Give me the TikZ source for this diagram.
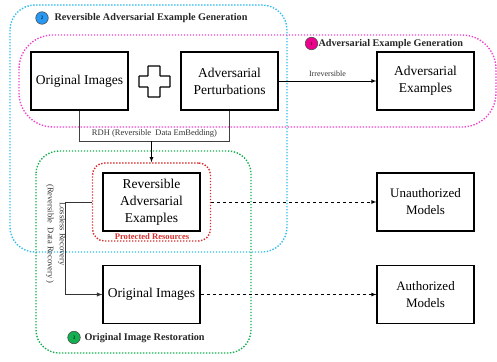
\documentclass[tikz,border=0pt]{standalone}
\usepackage{fontspec}
\setmainfont{Liberation Serif}
\usetikzlibrary{arrows}
\definecolor{rblue}{RGB}{51,190,240}
\definecolor{rpink}{RGB}{238,70,205}
\definecolor{rgreen}{RGB}{20,175,80}
\definecolor{rred}{RGB}{215,45,45}

\begin{document}
\begin{tikzpicture}[x=1pt,y=-1pt,
	box/.style={draw,line width=1.1pt,minimum width=97pt,minimum height=58pt,inner sep=1pt,align=center,font=\fontsize{13.5}{17}\selectfont},
	grp/.style={line width=1.4pt,dash pattern=on 1.4pt off 1.6pt,rounded corners=#1},
	badge/.style={circle,draw=black!70,line width=0.6pt,minimum size=12.5pt,inner sep=0pt,font=\fontsize{5}{5}\selectfont},
	tag/.style={anchor=west,text=black!85,font=\fontsize{10.2}{12}\selectfont\bfseries},
	small/.style={text=black!80,font=\fontsize{8.5}{12}\selectfont}]
	\useasboundingbox (0,0) rectangle (497,361);
	\draw[grp=25pt,rblue] (10,5) rectangle (287,252);
	\draw[grp=34pt,rpink] (19,35) rectangle (496,127);
	\draw[grp=23pt,rgreen] (36,151) rectangle (251,353);
	\node[badge,fill=rblue!80!blue] (b2) at (42,18) {2};
	\node[tag] (t2) at (51,18) {Reversible Adversarial Example Generation};
	\node[badge,fill=magenta] (b1) at (311.5,43.5) {1};
	\node[tag] (t1) at (315,44) {Adversarial Example Generation};
	\node[badge,fill=rgreen] (b3) at (74,337.5) {3};
	\node[tag] (t3) at (81,338) {Original Image Restoration};
	\node[box] (oi) at (79.5,81) {Original Images};
	\node[box] (ap) at (229.5,81) {Adversarial\\Perturbations};
	\node[box] (ae) at (425.5,81) {Adversarial\\Examples};
	\draw[line width=1.1pt,rounded corners=0.5pt] (148,66) -- (160,66) -- (160,76) -- (170,76) -- (170,87) -- (160,87) -- (160,97) -- (148,97) -- (148,87) -- (139,87) -- (139,76) -- (148,76) -- cycle;
	\draw[-latex,line width=0.8pt] (ap.east) -- node[above=1pt,small,font=\fontsize{8}{10}\selectfont] (irr) {Irreversible} (ae.west);
	\draw[line width=0.9pt,black!75] (oi.south) -- ++(0,31) coordinate (rdl) -| (ap.south);
	\node[small] (rdh) at (154.5,133) {RDH (Reversible~ Data EmBedding)};
	\coordinate (rdm) at (151.5,141);
	\node[draw=rred,grp=12pt,minimum width=118pt,minimum height=78pt] (prot) at (151.5,202) {};
	\node[box] (rae) at (151.5,202) {Reversible\\Adversarial\\Examples};
	\node[text=rred,font=\fontsize{8.6}{10}\selectfont\bfseries] (pr) at (152,236.5) {Protected Resources};
	\draw[-latex,line width=0.8pt] (rdm) -- (prot.north);
	\node[box,font=\fontsize{13}{17}\selectfont] (ua) at (425.5,202) {Unauthorized\\Models};
	\node[box] (oi2) at (151.5,294.5) {Original Images};
	\node[box,font=\fontsize{13}{17}\selectfont] (am) at (425.5,294.5) {Authorized\\Models};
	\draw[dashed,-latex,line width=0.8pt] (prot.east) -- (ua.west);
	\draw[dashed,-latex,line width=0.8pt] (oi2.east) -- (am.west);
	\draw[-latex,line width=0.9pt,black!80] (prot.west) -- ++(-26,0) |- (oi2.west);
	\node[small,rotate=-90,align=center] (llr) at (56,234) {Lossless Recovery\\(Reversible~ Data Recovery )};
\end{tikzpicture}
\end{document}
